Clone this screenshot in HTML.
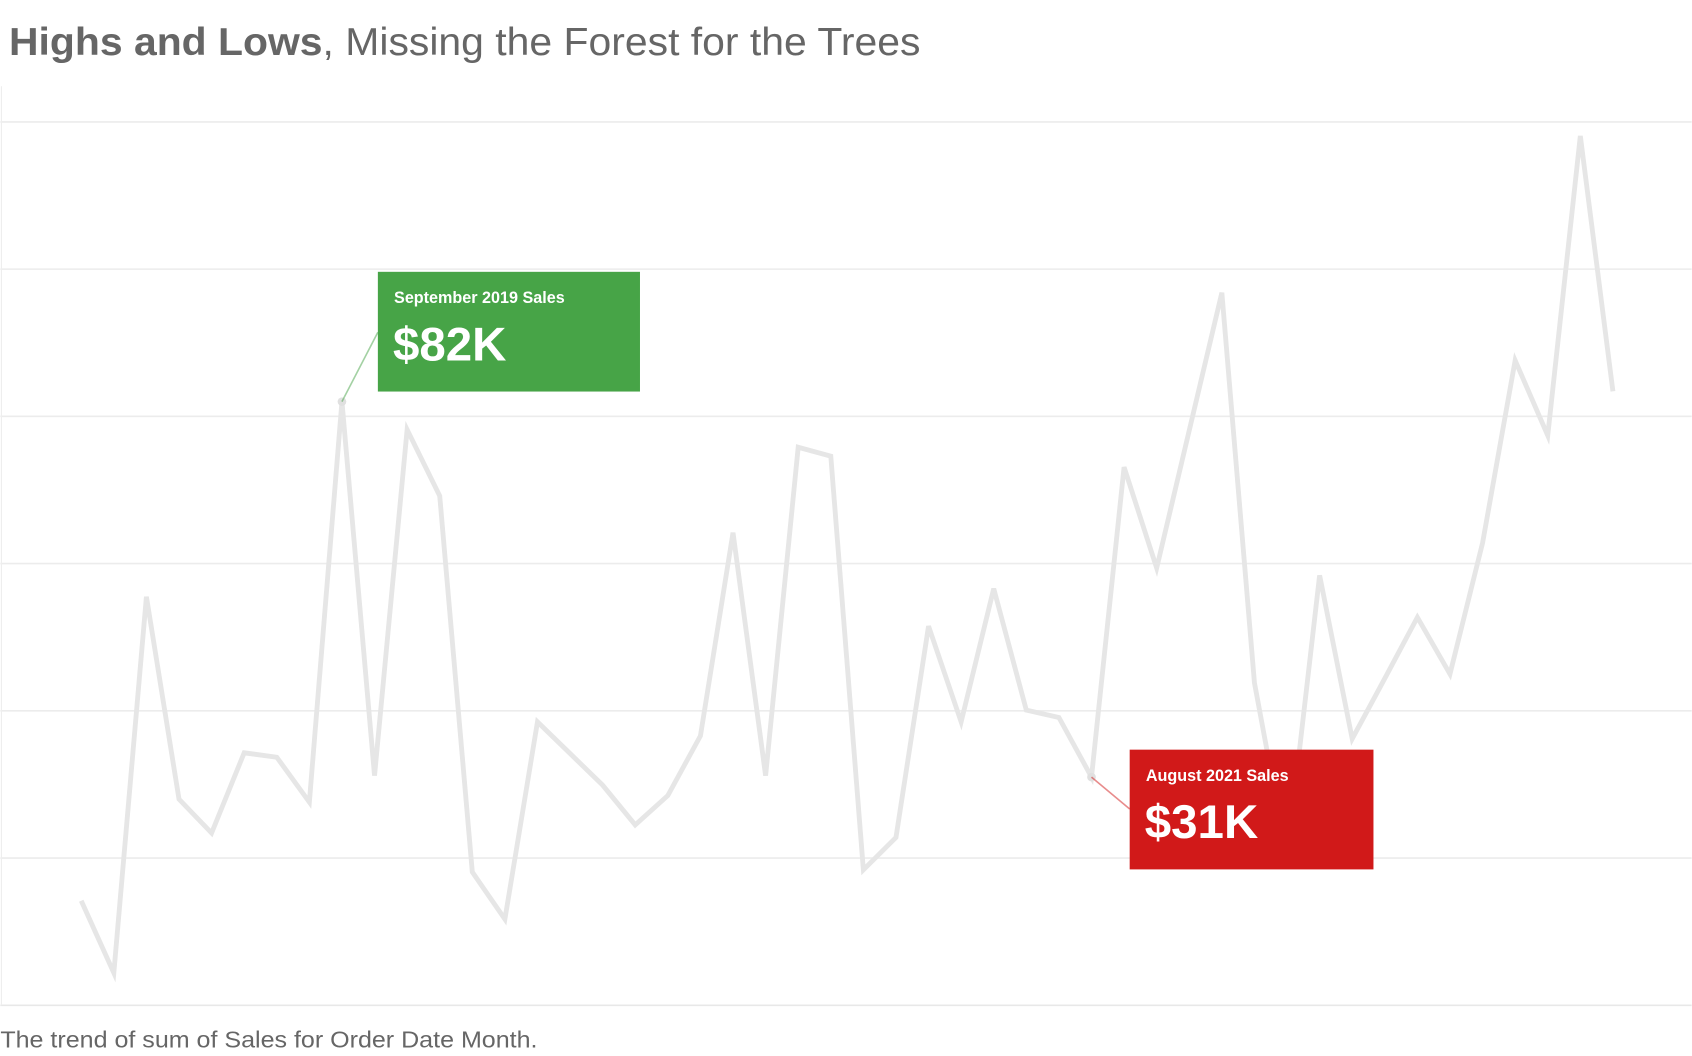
<!DOCTYPE html>
<html><head><meta charset="utf-8"><style>
html,body{margin:0;padding:0;background:#fff;}
svg{display:block;font-family:"Liberation Sans",sans-serif;}
</style></head><body>
<svg id="chart" width="1692" height="1056" viewBox="0 0 1568 979" xmlns="http://www.w3.org/2000/svg">
<text x="8" y="51" font-size="36" fill="#666" textLength="845" lengthAdjust="spacingAndGlyphs"><tspan font-weight="bold">Highs and Lows</tspan>, Missing the Forest for the Trees</text>
<g id="grid"></g>
<line x1="1" y1="80" x2="1" y2="932" stroke="#eee" stroke-width="1"/>
<g id="series"></g>
<g id="annot"></g>
<text x="0" y="971" font-size="21" fill="#666" textLength="498" lengthAdjust="spacingAndGlyphs">The trend of sum of Sales for Order Date Month.</text>
</svg>
<script>
const months = Array.from({length:48},(_,i)=>i); // Jan 2019 .. Dec 2022
const sales = [14.2,4.4,55.5,28,23.4,34.3,33.7,27.6,82,31.2,78.2,69.2,
18.1,11.7,38.5,34.2,29.9,24.5,28.5,36.6,64.2,31.2,75.8,74.6,
18.4,22.8,51.5,38.5,56.6,40.1,39.1,31,73.1,59.4,78.1,96.8,
43.8,20,58.4,36.2,44.4,52.7,45,62.8,87.6,77.4,118.1,83.4];
const gridTicks = [0,20,40,60,80,100,120];
const highIdx = 8, lowIdx = 31;
const highLabel = "September 2019 Sales", highValue = "$82K";
const lowLabel = "August 2021 Sales", lowValue = "$31K";

const NS="http://www.w3.org/2000/svg";
const x = i => 75 + i*(1495-75)/47;
const y = v => 932 - v*6.825;
function mk(tag, attrs, parent){const e=document.createElementNS(NS,tag);for(const k in attrs)e.setAttribute(k,attrs[k]);parent.appendChild(e);return e;}

const grid=document.getElementById('grid');
gridTicks.forEach(t=>{
  const l=mk('line',{x1:0,x2:1568,y1:y(t),y2:y(t),stroke:t===0?'#e8e8e8':'#ececec','stroke-width':1.5},grid);
  
  
});

const series=document.getElementById('series');
const pl=mk('polyline',{points:months.map(i=>x(i)+','+y(sales[i])).join(' '),fill:'none',stroke:'#e6e6e6','stroke-width':4.5,'stroke-linejoin':'miter'},series);



const an=document.getElementById('annot');
function callout(idx,bx,by,w,h,color,lead,label,value,name){
  const px=x(idx),py=y(sales[idx]);
  const d=mk('circle',{cx:px,cy:py,r:4,fill:'#e0e0e0'},an);
  
  
  const ln=mk('line',{x1:px,y1:py,x2:bx,y2:lead,stroke:color,'stroke-opacity':0.5,'stroke-width':1.5},an);
  
  
  const r=mk('rect',{x:bx,y:by,width:w,height:h,fill:color},an);
  
  
  const t1=mk('text',{x:bx+15,y:by+29,'font-size':15,'font-weight':'bold',fill:'#fff'},an);
  t1.textContent=label;
  
  
  const t2=mk('text',{x:bx+14,y:by+82,'font-size':44,'font-weight':'bold',fill:'#fff'},an);
  t2.textContent=value;
  
  
}
callout(highIdx,350,252,243,111,'#47a447',308,highLabel,highValue,'high-callout');
callout(lowIdx,1047,695,226,111,'#d11919',750,lowLabel,lowValue,'low-callout');
</script>
</body></html>
